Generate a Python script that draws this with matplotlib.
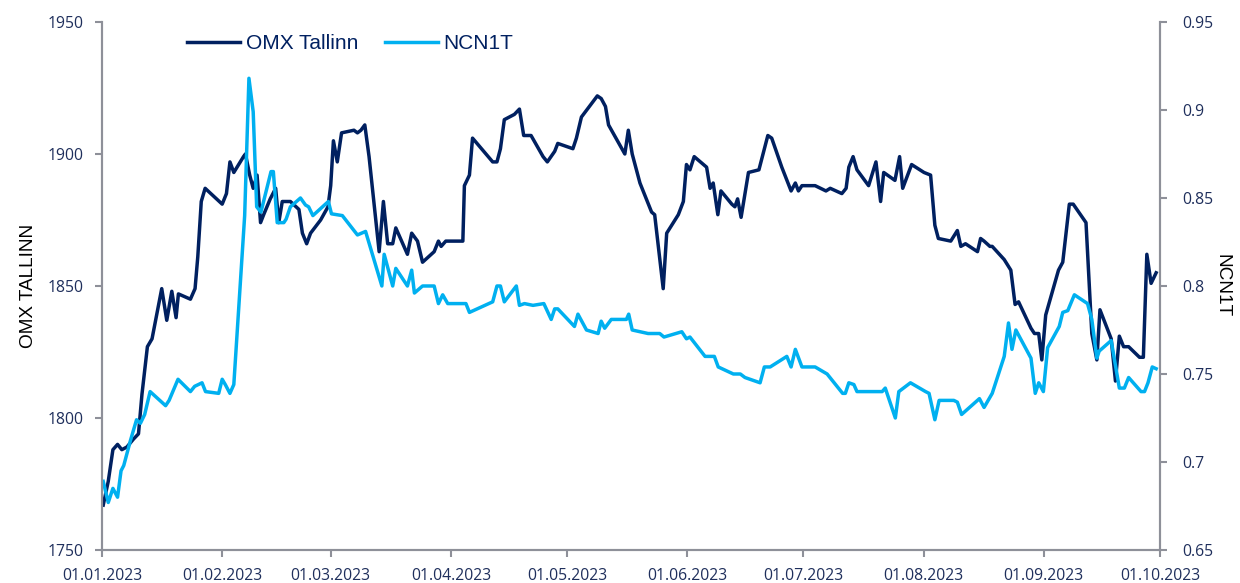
import pandas as pd
import matplotlib.pyplot as plt
import matplotlib.dates as mdates

START = pd.Timestamp("2023-01-01")

# days since 01.01.2023
omx_day = [0.3, 1.6, 2.8, 4.0, 5.1, 6.4, 8.1, 9.4, 10.3, 11.7, 12.9, 15.4, 16.7, 18.0, 19.1, 19.7,
           22.8, 24.0, 24.7, 25.6, 26.6, 31.0, 32.1, 33.0, 34.0, 36.5, 37.0, 38.1, 39.0, 40.0,
           40.9, 41.7, 43.4, 44.8, 45.6, 46.5, 48.6, 50.8, 51.7, 52.8, 53.8, 56.4, 58.3, 59.0,
           59.7, 60.7, 61.8, 65.0, 65.9, 66.8, 67.8, 68.9, 70.2, 71.5, 72.6, 73.7, 75.0, 75.8,
           78.8, 79.9, 81.4, 82.7, 85.7, 86.8, 87.5, 88.7, 93.1, 93.5, 94.8, 95.6, 100.8, 101.9,
           102.8, 103.8, 106.4, 107.7, 108.8, 110.7, 113.8, 114.9, 116.8, 117.6, 121.5, 122.4,
           123.7, 127.8, 128.8, 129.9, 130.7, 134.9, 135.8, 136.8, 138.8, 141.8, 142.6, 144.8,
           145.7, 148.7, 150.0, 150.8, 151.7, 152.8, 155.2, 156.0, 156.9, 157.7, 158.9, 159.7,
           162.5, 163.3, 164.0, 164.9, 166.8, 169.5, 171.8, 172.8, 175.4, 177.8, 178.9, 179.7,
           180.6, 184.0, 186.8, 187.9, 190.9, 192.0, 192.7, 193.8, 194.8, 197.8, 199.7, 200.9,
           201.7, 204.6, 205.8, 206.6, 208.9, 212.1, 213.8, 214.9, 215.8, 219.0, 220.7, 221.6,
           222.8, 225.9, 226.7, 227.6, 229.1, 229.7, 232.8, 234.5, 235.6, 236.5, 239.7, 240.6,
           241.7, 242.5, 243.5, 246.8, 247.9, 249.6, 250.6, 253.9, 255.4, 256.7, 257.5, 260.4,
           261.5, 262.5, 263.6, 264.9, 267.7, 268.7, 269.6, 270.7, 272.0]
omx_val = [1767, 1776, 1788, 1790, 1788, 1789, 1792, 1794, 1809, 1827, 1830, 1849, 1837, 1848, 1838, 1847,
           1845, 1849, 1861, 1882, 1887, 1881, 1885, 1897, 1893, 1899, 1900, 1892, 1887, 1892,
           1874, 1877, 1883, 1887, 1874, 1882, 1882, 1879, 1870, 1866, 1870, 1875, 1880, 1888,
           1905, 1897, 1908, 1909, 1908, 1909, 1911, 1899, 1881, 1863, 1882, 1866, 1866, 1872,
           1862, 1870, 1867, 1859, 1863, 1867, 1865, 1867, 1867, 1888, 1892, 1906, 1897, 1897,
           1902, 1913, 1915, 1917, 1907, 1907, 1899, 1897, 1901, 1904, 1902, 1906,
           1914, 1922, 1921, 1918, 1911, 1900, 1909, 1900, 1889, 1878, 1877, 1849,
           1870, 1877, 1882, 1896, 1894, 1899, 1896, 1895, 1887, 1889, 1877, 1886,
           1881, 1880, 1883, 1876, 1893, 1894, 1907, 1906, 1895, 1886, 1889, 1886,
           1888, 1888, 1886, 1887, 1885, 1887, 1895, 1899, 1894, 1888, 1897, 1882,
           1893, 1890, 1899, 1887, 1896, 1893, 1892, 1873, 1868, 1867, 1871, 1865,
           1866, 1863, 1868, 1867, 1865, 1865, 1860, 1856, 1843, 1844, 1834, 1832,
           1832, 1822, 1839, 1856, 1859, 1881, 1881, 1874, 1832, 1822, 1841, 1830,
           1814, 1831, 1827, 1827, 1823, 1823, 1862, 1851, 1855]

ncn_day = [0.3, 1.6, 2.8, 4.0, 4.9, 5.6, 7.3, 8.9, 9.9, 11.0, 12.4, 16.4, 17.3, 19.6, 22.8, 23.9,
           25.8, 26.7, 30.1, 31.0, 31.8, 33.0, 34.0, 36.8, 37.9, 39.0, 39.9, 41.0, 43.6, 44.2,
           45.2, 46.9, 47.5, 48.6, 51.2, 52.5, 53.3, 54.4, 58.4, 59.2, 62.0, 65.9, 68.0, 72.2,
           72.8, 75.0, 75.8, 78.8, 79.9, 80.6, 82.7, 85.7, 86.8, 87.9, 89.2, 93.9, 94.8, 100.8,
           101.9, 102.8, 103.8, 106.9, 107.7, 109.0, 111.2, 114.0, 115.9, 116.8, 117.6, 121.9,
           122.8, 125.0, 128.0, 128.8, 129.7, 131.4, 135.3, 135.9, 136.8, 140.9, 143.9, 145.0,
           149.6, 150.8, 151.7, 155.6, 158.0, 159.0, 162.9, 164.7, 165.9, 169.8, 170.9, 172.4,
           176.7, 177.8, 178.9, 180.6, 184.0, 187.1, 191.1, 191.8, 192.7, 194.0, 194.8, 201.3,
           202.1, 204.7, 205.6, 208.6, 212.5, 213.4, 214.9, 216.0, 219.8, 220.7, 221.8, 226.4,
           227.6, 229.7, 232.8, 233.9, 234.8, 235.8, 239.7, 240.8, 241.7, 242.9, 244.0, 247.0,
           247.9, 249.2, 250.9, 254.3, 255.4, 256.7, 257.3, 260.4, 262.5, 263.8, 264.9, 268.1,
           269.0, 269.9, 271.0, 272.0]
ncn_val = [0.689, 0.677, 0.685, 0.680, 0.695, 0.698, 0.712, 0.724, 0.722, 0.727, 0.740, 0.732, 0.735, 0.747, 0.740, 0.743,
           0.745, 0.740, 0.739, 0.747, 0.744, 0.739, 0.744, 0.840, 0.918, 0.899, 0.845, 0.842, 0.865, 0.865,
           0.836, 0.836, 0.838, 0.845, 0.850, 0.846, 0.845, 0.840, 0.848, 0.841, 0.840, 0.829, 0.831, 0.800,
           0.818, 0.800, 0.810, 0.800, 0.809, 0.796, 0.800, 0.800, 0.790, 0.795, 0.790, 0.790, 0.785, 0.791,
           0.800, 0.800, 0.791, 0.800, 0.789, 0.790, 0.789, 0.790, 0.781, 0.787, 0.787, 0.777,
           0.784, 0.775, 0.773, 0.780, 0.776, 0.781, 0.781, 0.784, 0.775, 0.773, 0.773, 0.771,
           0.774, 0.770, 0.771, 0.760, 0.760, 0.754, 0.750, 0.750, 0.748, 0.745, 0.754, 0.754,
           0.760, 0.754, 0.764, 0.754, 0.754, 0.750, 0.739, 0.739, 0.745, 0.744, 0.740, 0.740,
           0.742, 0.725, 0.740, 0.745, 0.740, 0.739, 0.724, 0.735, 0.735, 0.734, 0.727, 0.736,
           0.731, 0.739, 0.760, 0.779, 0.764, 0.775, 0.759, 0.739, 0.745, 0.740, 0.765, 0.777,
           0.785, 0.786, 0.795, 0.790, 0.781, 0.759, 0.763, 0.769, 0.742, 0.742, 0.748, 0.740,
           0.740, 0.745, 0.754, 0.753]

NAVY = "#002060"
LIGHT = "#00B0F0"
GREY = "#8E9099"
TICK_COL = "#1F2F5C"


def to_dates(days):
    return START + pd.to_timedelta(days, unit="D")


def main() -> None:
    plt.rcParams["font.family"] = ["Open Sans", "DejaVu Sans"]
    fig = plt.figure(figsize=(12.4, 5.83), dpi=100)
    ax = fig.add_axes([0.0823, 0.0566, 0.8532, 0.9057])
    ax2 = ax.twinx()

    l1, = ax.plot(to_dates(omx_day), omx_val, color=NAVY, lw=2.5, label="OMX Tallinn")
    l2, = ax2.plot(to_dates(ncn_day), ncn_val, color=LIGHT, lw=2.5, label="NCN1T")

    ax.set_xlim(START, pd.Timestamp("2023-10-01"))
    ax.set_ylim(1750, 1950)
    ax2.set_ylim(0.65, 0.95)
    ax.set_yticks([1750, 1800, 1850, 1900, 1950])
    ax2.set_yticks([0.65, 0.7, 0.75, 0.8, 0.85, 0.9, 0.95])
    ax2.set_yticklabels(["0.65", "0.7", "0.75", "0.8", "0.85", "0.9", "0.95"])
    ax.xaxis.set_major_locator(mdates.MonthLocator())
    ax.xaxis.set_major_formatter(mdates.DateFormatter("%d.%m.%Y"))

    for a in (ax, ax2):
        a.spines["top"].set_visible(False)
        for s in ("left", "right", "bottom"):
            a.spines[s].set_color(GREY)
            a.spines[s].set_linewidth(1.5)
        a.tick_params(colors=GREY, labelcolor=TICK_COL, labelsize=11.3, length=5, width=1.5)
    ax.tick_params(axis="y", pad=8)
    ax.tick_params(axis="x", pad=8)
    ax2.tick_params(axis="y", pad=11)

    ax.set_ylabel("OMX TALLINN", family="Liberation Sans", fontsize=13.7, labelpad=8)
    ax2.set_ylabel("NCN1T", family="Liberation Sans", fontsize=13.7, rotation=270, labelpad=12)

    fig.legend(handles=[l1, l2], loc="center left", bbox_to_anchor=(0.1427, 0.925), ncol=2,
               frameon=False, labelcolor=NAVY, handlelength=2.55, borderpad=0,
               handletextpad=0.25, columnspacing=1.3, prop={"family": "Liberation Sans", "size": 15})

    fig.savefig("out.png", dpi=100)


if __name__ == "__main__":
    main()
